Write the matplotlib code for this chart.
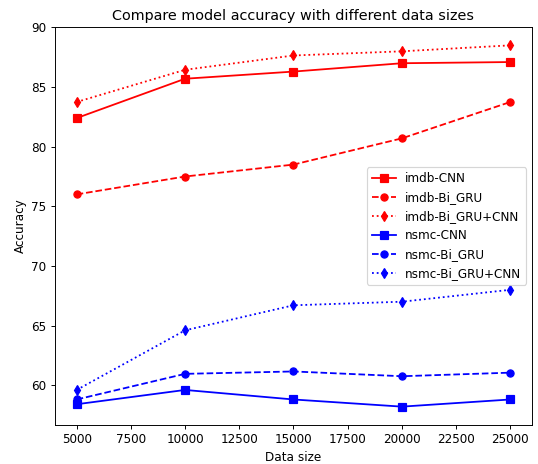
import matplotlib
matplotlib.use('Agg')
import matplotlib.pyplot as plt

data_sizes = [5000, 10000, 15000, 20000, 25000]

imdb_cnn = [82.4, 85.7, 86.3, 87.0, 87.1]
imdb_bigru = [76.0, 77.5, 78.5, 80.7, 83.75]
imdb_bigru_cnn = [83.75, 86.45, 87.65, 88.0, 88.5]

nsmc_cnn = [58.4, 59.6, 58.8, 58.2, 58.8]
nsmc_bigru = [58.8, 60.95, 61.15, 60.75, 61.05]
nsmc_bigru_cnn = [59.6, 64.6, 66.7, 67.0, 68.0]

dpi = 86
fig = plt.figure(figsize=(538 / dpi, 464 / dpi), dpi=dpi)
ax = fig.add_axes([0.1022, 0.0847, 0.8866, 0.8565])

ax.plot(data_sizes, imdb_cnn, 'rs-', label='imdb-CNN')
ax.plot(data_sizes, imdb_bigru, 'ro--', label='imdb-Bi_GRU')
ax.plot(data_sizes, imdb_bigru_cnn, 'rd:', label='imdb-Bi_GRU+CNN')
ax.plot(data_sizes, nsmc_cnn, 'bs-', label='nsmc-CNN')
ax.plot(data_sizes, nsmc_bigru, 'bo--', label='nsmc-Bi_GRU')
ax.plot(data_sizes, nsmc_bigru_cnn, 'bd:', label='nsmc-Bi_GRU+CNN')

ax.set_title('Compare model accuracy with different data sizes')
ax.set_xlabel('Data size')
ax.set_ylabel('Accuracy')
ax.legend()

fig.savefig('out.png', dpi=dpi)
